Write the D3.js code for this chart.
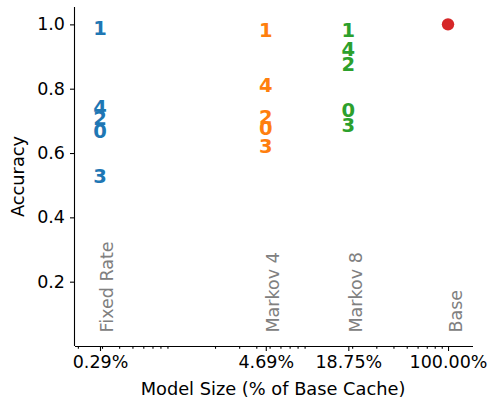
<!DOCTYPE html>
<meta charset="utf-8">
<style>
body { margin: 0; background: #fff; }
svg, svg text { font-family: "DejaVu Sans", sans-serif; }
.axis path, .axis line { stroke: #000; stroke-width: 1.1; }
.axis text { font-size: 17.5px; fill: #000; font-family: "DejaVu Sans", sans-serif; }
.run { font-size: 19.5px; font-weight: bold; text-anchor: middle; }
.method { font-size: 17.5px; fill: #808080; }
</style>
<svg width="488" height="402"></svg>
<script src="https://d3js.org/d3.v7.min.js"></script>
<script>
// model sizes (% of base cache) and method names
var methods = ["Fixed Rate", "Markov 4", "Markov 8", "Base"];
var sizes = [0.29, 4.69, 18.75, 100];
var sizeLabels = ["0.29%", "4.69%", "18.75%", "100.00%"];
var colors = ["#1f77b4", "#ff7f0e", "#2ca02c", "#d62728"];

// accuracy of runs 0..4 per method
var fixedRate = [0.668, 0.988, 0.708, 0.530, 0.742];
var markov4   = [0.677, 0.981, 0.713, 0.623, 0.810];
var markov8   = [0.735, 0.981, 0.876, 0.686, 0.925];
var base      = [1.0];
var yTicks = [0.2, 0.4, 0.6, 0.8, 1.0];

var svg = d3.select("svg"),
    margin = {top: 7, right: 15, bottom: 56, left: 75},
    width = +svg.attr("width") - margin.left - margin.right,
    height = +svg.attr("height") - margin.top - margin.bottom;

var x = d3.scaleLog().domain([0.1906, 152.1]).range([0, width]),
    y = d3.scaleLinear().domain([0, 1.054]).range([height, 0]);

var g = svg.append("g")
    .attr("transform", "translate(" + margin.left + "," + margin.top + ")");

// minor log ticks
var minor = [];
[0.1, 1, 10].forEach(function(d) {
  for (var k = 2; k <= 9; k++) {
    var v = d * k;
    if (v >= x.domain()[0] && v <= x.domain()[1]) minor.push(v);
  }
});

g.append("g")
    .attr("class", "axis axis--xminor")
    .attr("transform", "translate(0," + height + ")")
    .call(d3.axisBottom(x).tickValues(minor).tickSize(2.8).tickFormat(""))
    .select(".domain").remove();

g.append("g")
    .attr("class", "axis axis--x")
    .attr("transform", "translate(0," + height + ")")
    .call(d3.axisBottom(x).tickValues(sizes).tickSize(5).tickPadding(5)
      .tickFormat(function(d, i) { return sizeLabels[i]; }))
    .select(".domain").attr("d", "M0,0.5H" + width);

g.append("g")
    .attr("class", "axis axis--y")
    .call(d3.axisLeft(y).tickValues(yTicks).tickSize(5).tickPadding(5).tickFormat(d3.format(".1f")))
    .select(".domain").attr("d", "M-0.5,0V" + height);

g.selectAll(".axis").attr("font-family", null).attr("font-size", null);
g.selectAll(".axis text").attr("fill", "#000");

// axis titles
svg.append("text")
    .attr("x", margin.left + width / 2 - 1)
    .attr("y", 395)
    .attr("text-anchor", "middle")
    .style("font-size", "17.8px")
    .text("Model Size (% of Base Cache)");

svg.append("text")
    .attr("transform", "translate(24," + (margin.top + height / 2) + ") rotate(-90)")
    .attr("text-anchor", "middle")
    .style("font-size", "17.8px")
    .text("Accuracy");

// method labels
var labelY = 0.042;
g.selectAll(".method")
    .data(methods)
  .enter().append("text")
    .attr("class", "method")
    .attr("transform", function(d, i) {
      return "translate(" + (x(sizes[i]) + 13.5) + "," + y(labelY) + ") rotate(-90)";
    })
    .text(function(d) { return d; });

// run numbers
var series = [fixedRate, markov4, markov8];
series.forEach(function(vals, i) {
  g.selectAll(".run-" + i)
      .data(vals)
    .enter().append("text")
      .attr("class", "run run-" + i)
      .attr("x", x(sizes[i]))
      .attr("y", function(d) { return y(d); })
      .attr("dy", "0.36em")
      .attr("fill", colors[i])
      .text(function(d, j) { return j; });
});

// base point
g.selectAll(".dot")
    .data(base)
  .enter().append("circle")
    .attr("class", "dot")
    .attr("cx", x(sizes[3]))
    .attr("cy", function(d) { return y(d); })
    .attr("r", 6.2)
    .attr("fill", colors[3]);
</script>
